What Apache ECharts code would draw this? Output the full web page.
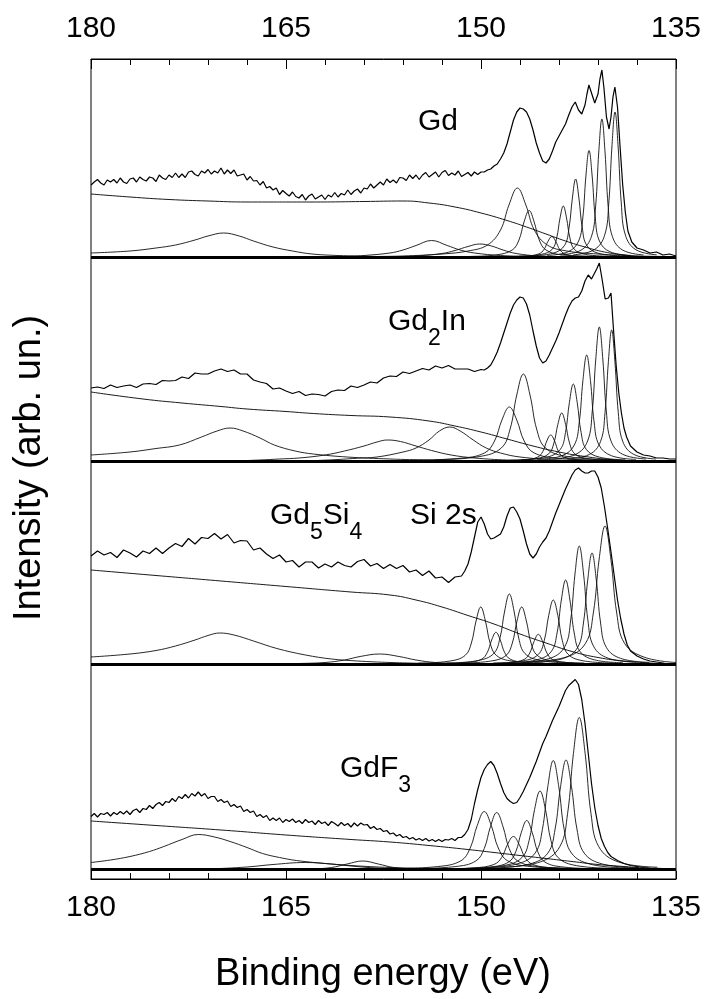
<!DOCTYPE html>
<html>
<head>
<meta charset="utf-8">
<script src="https://cdn.jsdelivr.net/npm/echarts@6.0.0/dist/echarts.min.js"></script>
<style>
  html, body { margin: 0; padding: 0; background: #fff; }
  #chart { width: 707px; height: 999px; }
</style>
</head>
<body>
<div id="chart"></div>
<script>
// binding energy axis (eV), drawn reversed: 180 on the left
const energyMin = 135
const energyMax = 180
const energyStep = 15

// ---- Gd ----
const gdData = [[180,72],[179.75,75],[179.5,77.5],[179.25,74],[179,72],[178.75,77],[178.5,75],[178.25,77.5],[178,74],[177.75,79],[177.5,75],[177.25,73.5],[177,78],[176.75,79],[176.5,75],[176.25,80],[176,77.5],[175.75,76],[175.5,80],[175.25,79],[175,75.5],[174.75,82],[174.5,79],[174.25,77.5],[174,82],[173.75,79.5],[173.5,84],[173.25,79.5],[173,83],[172.75,79.5],[172.5,85],[172.25,86],[172,82.5],[171.75,81],[171.5,86],[171.25,84],[171,87.5],[170.75,83],[170.5,86],[170.25,84],[170,89],[169.75,83],[169.5,87],[169.25,83.5],[169,87],[168.75,81],[168.5,82],[168.25,83],[168,77],[167.75,80.5],[167.5,76],[167.25,76.5],[167,72],[166.75,75.5],[166.5,69],[166.25,70.5],[166,67],[165.75,69],[165.5,62.5],[165.25,66.5],[165,63.5],[164.75,61],[164.5,65],[164.25,60.5],[164,59],[163.75,62.5],[163.5,57],[163.25,61],[163,63],[162.75,58],[162.5,60],[162.25,62],[162,57.5],[161.75,62],[161.5,60],[161.25,64.5],[161,60],[160.75,63.5],[160.5,62],[160.25,67],[160,62.5],[159.75,66],[159.5,68],[159.25,64],[159,69],[158.75,68],[158.5,73],[158.25,69],[158,72],[157.75,75],[157.5,72],[157.25,78],[157,74.5],[156.75,77],[156.5,74],[156.25,79.5],[156,79],[155.75,76.5],[155.5,82],[155.25,78.5],[155,82],[154.75,77.5],[154.5,82],[154.25,84.5],[154,80],[153.75,82.5],[153.5,85],[153.25,80],[153,84.5],[152.75,86.5],[152.5,81.5],[152.25,84],[152,82],[151.75,86],[151.5,80.5],[151.25,82.5],[151,84.5],[150.75,81],[150.5,85],[150.25,82.5],[150,85],[149.75,85],[149.5,87],[149.25,88],[149,91],[148.75,93],[148.5,98],[148.25,104],[148,113],[147.75,125],[147.5,137],[147.25,145],[147,149],[146.75,148],[146.5,145],[146.25,138],[146,127],[145.75,114],[145.5,104],[145.25,96],[145,94],[144.75,98],[144.5,106],[144.25,115],[144,121],[143.75,127],[143.5,133],[143.25,142],[143,150],[142.75,155],[142.5,147],[142.25,143],[142,152],[141.85,163],[141.7,172],[141.5,164],[141.25,154],[141,163],[140.85,178],[140.7,187],[140.55,170],[140.35,140],[140.15,128],[140,140],[139.85,160],[139.7,170],[139.5,150],[139.3,110],[139.1,72],[138.9,45],[138.7,26],[138.4,15],[138,9],[137.5,7],[137,4],[136.5,5],[136,2],[135.5,3],[135,1]]
const gdBackground = [[180,63],[177,60],[174,57.5],[171,56],[168,55],[163,55],[159,55.5],[156,56],[154,54],[152,50],[150,44],[148,36.5],[146.5,30],[145,23],[143.5,16],[142,10],[140.5,5],[139,2],[137.5,0.5],[135,0]]
const gdPeaks = [
  [[180,4],[177,6],[175,9],[173.5,12],[172,17],[171,21],[169.8,24],[168.6,21],[167.5,16],[166,10],[164.5,6],[163,3],[161,1.5],[158,0.5],[155,0]],
  [[162,0],[160,0.8],[159,1.5],[157,4],[156,7],[155,11.5],[153.8,16.5],[152.6,11.5],[151.6,7],[150.5,4],[148.5,1.5],[146,0.5],[144,0]],
  [[158,0],[156,0.5],[155,1],[153,3.5],[152,6.5],[151,10.5],[150.1,13],[149.2,11],[148.3,7],[147.3,3.5],[145.5,1],[143,0.3],[141,0]],
  [[160,0],[158,0.5],[156,1],[153,3],[151,6],[149.5,12],[148.5,27],[147.85,52],[147.2,69],[146.55,52],[145.9,27],[144.9,12],[143.4,6],[141,3],[138,1],[135,0.5]],
  [[153,0],[151,0.5],[148.9,2],[147.6,7],[147.08,17],[146.69,35],[146.3,46.5],[145.91,35],[145.52,17],[145,7],[143.7,2],[141,0.5],[139,0]],
  [[148.55,0.3],[146.55,1],[145.55,3.1],[145.15,7.6],[144.85,15.6],[144.55,20.5],[144.25,15.6],[143.95,7.6],[143.55,3.1],[142.55,1],[140.55,0.3]],
  [[147.07,0.8],[145.37,2.6],[144.52,7.7],[144.18,19],[143.92,39],[143.67,51],[143.42,39],[143.16,19],[142.82,7.7],[141.97,2.6],[140.27,0.8]],
  [[146.12,1.2],[144.42,3.9],[143.57,11.7],[143.23,29],[142.97,59],[142.72,78],[142.47,59],[142.21,29],[141.87,11.7],[141.02,3.9],[139.32,1.2]],
  [[144.89,1.6],[143.29,5.3],[142.49,16],[142.17,39],[141.93,81],[141.69,106.5],[141.45,81],[141.21,39],[140.89,16],[140.09,5.3],[138.49,1.6]],
  [[143.9,2.1],[142.3,6.9],[141.5,20.7],[141.18,51],[140.94,105],[140.7,138],[140.46,105],[140.22,51],[139.9,20.7],[139.1,6.9],[137.5,2.1]],
  [[142.89,2.2],[141.29,7.3],[140.49,21.8],[140.17,54],[139.93,110],[139.69,145],[139.45,110],[139.21,54],[138.89,21.8],[138.09,7.3],[136.49,2.2]]
]

// ---- Gd2In ----
const gd2inData = [[180,73],[179.5,74],[179,72.5],[178.5,76],[178,73.5],[177.5,75],[177,76],[176.5,73.5],[176,77],[175.5,77.5],[175,76.5],[174.5,80.5],[174,80],[173.5,80.5],[173,84],[172.5,82.5],[172,88],[171.5,87],[171,87],[170.5,90],[170,92],[169.5,89.5],[169,91],[168.5,87],[168,87],[167.5,81],[167,79],[166.5,77.5],[166,72],[165.5,73],[165,70],[164.5,67.5],[164,69.5],[163.5,65.5],[163,67],[162.5,66.5],[162,65],[161.5,69.5],[161,71],[160.5,70.5],[160,75],[159.5,73.5],[159,76],[158.5,79],[158,78],[157.5,83],[157,85],[156.5,84.5],[156,89],[155.5,87.5],[155,90],[154.5,92.5],[154,91],[153.5,95],[153,93],[152.5,95.5],[152,92],[151.5,92],[151,92],[150.5,89.5],[150,91.5],[149.75,91],[149.5,93],[149.25,96],[149,102],[148.75,109],[148.5,118],[148.25,128],[148,138],[147.75,148],[147.5,156],[147.25,161],[147,164],[146.75,163],[146.5,157],[146.25,146],[146,130],[145.75,115],[145.5,103],[145.25,98],[145,100],[144.75,106],[144.5,113],[144.25,120],[144,128],[143.75,137],[143.5,146],[143.25,154],[143,160],[142.75,163],[142.5,164],[142.25,170],[142,180],[141.75,186],[141.5,182],[141.35,181],[141.1,192],[140.9,198],[140.7,183],[140.45,162],[140.2,163],[140,168],[139.8,130],[139.6,95],[139.4,68],[139.2,48],[139,33],[138.8,24],[138.5,15],[138,9],[137.5,6],[137,5],[136.5,3],[136,3],[135.5,2],[135,2]]
const gd2inBackground = [[180,69],[176,62],[173,58],[170,54.5],[168,52],[165,49.5],[162.9,47.5],[160,45.5],[157,44],[154,40],[152,35],[150,29],[148,22],[146,15],[144,9],[142,4.5],[140,1.5],[138,0.3],[135,0]]
const gd2inPeaks = [
  [[180,6],[177,9],[175,12.5],[173.2,16],[171.5,24],[170.3,30],[169.3,33],[168.3,30],[167,23],[165.9,16],[164.3,10],[162.9,7],[160.3,4],[157,2],[154,1],[150,0.3]],
  [[169,0],[167,1],[165.5,2],[164,3],[162,6],[160.5,10],[159,15],[158,19],[157.2,21],[156.2,19.5],[155,15],[153.8,10.5],[152.3,6],[150.5,3],[148,1],[145,0.3]],
  [[163,0.3],[161,1.5],[159.5,2.8],[158,4],[156,9],[155,13],[154,21],[153.2,30],[152.4,34],[151.6,30],[150.6,21],[149.6,13],[148.5,8],[147,4],[144,1],[141,0.3]],
  [[155.42,0.8],[151.62,2.7],[149.72,8.1],[148.96,20],[148.39,41],[147.82,54],[147.25,41],[146.68,20],[145.92,8.1],[144.02,2.7],[140.22,0.8]],
  [[153.54,1.3],[150.14,4.4],[148.44,13],[147.76,32],[147.25,66],[146.74,87],[146.23,66],[145.72,32],[145.04,13],[143.34,4.4],[139.94,1.3]],
  [[148.64,0.4],[146.64,1.3],[145.64,3.9],[145.24,9.6],[144.94,20],[144.64,26],[144.34,20],[144.04,9.6],[143.64,3.9],[142.64,1.3],[140.64,0.4]],
  [[147.79,0.7],[145.79,2.4],[144.79,7.2],[144.39,18],[144.09,36.5],[143.79,48],[143.49,36.5],[143.19,18],[142.79,7.2],[141.79,2.4],[139.79,0.7]],
  [[146.9,1.2],[144.9,3.9],[143.9,11.6],[143.5,28.5],[143.2,58.5],[142.9,77],[142.6,58.5],[142.3,28.5],[141.9,11.6],[140.9,3.9],[138.9,1.2]],
  [[145.67,1.6],[143.77,5.3],[142.82,16],[142.44,39],[142.16,80.5],[141.87,106],[141.58,80.5],[141.3,39],[140.92,16],[139.97,5.3],[138.07,1.6]],
  [[144.5,2],[142.7,6.7],[141.8,20],[141.44,50],[141.17,102],[140.9,134],[140.63,102],[140.36,50],[140,20],[139.1,6.7],[137.3,2]],
  [[143.35,2],[141.65,6.6],[140.8,19.7],[140.46,48.5],[140.2,99.5],[139.95,131],[139.7,99.5],[139.44,48.5],[139.1,19.7],[138.25,6.6],[136.55,2]]
]

// ---- Gd5Si4 (with Si 2s) ----
const gd5si4Data = [[180,108],[179.5,113],[179,109],[178.5,111.5],[178,106.5],[177.5,114],[177,111],[176.5,107],[176,113],[175.5,110.5],[175,116],[174.5,110.5],[174,116],[173.5,120.5],[173,117.5],[172.5,125.5],[172,120],[171.5,126.5],[171,125.5],[170.5,130.5],[170,125],[169.5,129.5],[169,121],[168.5,123.5],[168,123],[167.5,114],[167,116],[166.5,110],[166,105.5],[165.5,109],[165,102],[164.5,103.5],[164,97],[163.5,102],[163,102],[162.5,96],[162,100],[161.5,97],[161,102],[160.5,98.5],[160,97],[159.5,102.5],[159,104.5],[158.5,98],[158,100.5],[157.5,95.5],[157,99.5],[156.5,95.5],[156,98.5],[155.5,92],[155,94],[154.5,88.5],[154,93],[153.5,86],[153,87],[152.5,81.5],[152,87],[151.5,88],[151.25,93],[151,100],[150.75,112],[150.5,127],[150.25,142],[150,147],[149.75,140],[149.5,130],[149.25,125],[149,126],[148.75,128],[148.5,130],[148.25,137],[148,148],[147.75,156],[147.5,157],[147.25,152],[147,145],[146.75,133],[146.5,120],[146.25,110],[146,106],[145.75,110],[145.5,117],[145.25,122],[145,126],[144.75,133],[144.5,142],[144.25,151],[144,159],[143.75,167],[143.5,175],[143.25,182],[143,189],[142.75,194],[142.5,196],[142.25,193],[142,191],[141.75,191],[141.5,193],[141.25,193],[141,187],[140.75,176],[140.5,157],[140.25,135],[140,112],[139.75,88],[139.5,64],[139.25,45],[139,30],[138.75,19],[138.5,13],[138,8],[137.5,5],[137,3],[136.5,2],[136,1],[135.6,0]]
const gd5si4Background = [[180,94],[175,88.5],[170,83],[165,77.5],[160,72],[157,69],[155,64],[153,57],[151,48.5],[149,40],[147,30],[145,21],[143,12.5],[141,6.5],[139,3],[137,1],[135.5,0]]
const gd5si4Peaks = [
  [[180,7],[177,10],[175,13.5],[173.5,18],[172,24],[171,28.5],[170.1,31],[169,29],[167.5,23],[165.7,15.5],[163.5,9],[161.5,5],[159.5,3],[157,1.5],[154,0.5]],
  [[166,0],[164,0.5],[162,1.5],[160.5,4],[159.3,7.5],[157.8,10],[156.3,7.5],[155,4],[153.5,1.5],[151,0.3]],
  [[154.82,0.9],[152.42,2.9],[151.22,8.6],[150.74,21],[150.38,43],[150.02,57],[149.66,43],[149.3,21],[148.82,8.6],[147.62,2.9],[145.22,0.9]],
  [[153.25,0.5],[151.05,1.6],[149.95,4.8],[149.51,11.7],[149.18,24],[148.85,31.7],[148.52,24],[148.19,11.7],[147.75,4.8],[146.65,1.6],[144.45,0.5]],
  [[152.62,1],[150.22,3.5],[149.02,10.5],[148.54,26],[148.18,53],[147.82,70],[147.46,53],[147.1,26],[146.62,10.5],[145.42,3.5],[143.02,1]],
  [[151.67,0.9],[149.27,2.9],[148.07,8.6],[147.59,21],[147.23,43],[146.87,57],[146.51,43],[146.15,21],[145.67,8.6],[144.47,2.9],[142.07,0.9]],
  [[149.99,0.4],[147.79,1.5],[146.69,4.5],[146.25,11],[145.92,22.5],[145.59,29.7],[145.26,22.5],[144.93,11],[144.49,4.5],[143.39,1.5],[141.19,0.4]],
  [[149.04,1],[146.74,3.2],[145.59,9.6],[145.13,23.7],[144.79,48.6],[144.44,64],[144.09,48.6],[143.75,23.7],[143.29,9.6],[142.14,3.2],[139.84,1]],
  [[147.89,1.3],[145.69,4.2],[144.59,12.6],[144.15,31],[143.82,64],[143.49,84],[143.16,64],[142.83,31],[142.39,12.6],[141.29,4.2],[139.09,1.3]],
  [[146.84,1.8],[144.64,5.9],[143.54,17.7],[143.1,44],[142.77,90],[142.44,118],[142.11,90],[141.78,44],[141.34,17.7],[140.24,5.9],[138.04,1.8]],
  [[145.86,1.7],[143.66,5.6],[142.56,16.7],[142.12,41],[141.79,84],[141.46,111],[141.13,84],[140.8,41],[140.36,16.7],[139.26,5.6],[137.06,1.7]],
  [[146.46,2.1],[143.46,6.9],[141.96,20.7],[141.36,51],[140.91,105],[140.46,138],[140.01,105],[139.56,51],[138.96,20.7],[137.46,6.9],[135,1.5]]
]

// ---- GdF3 ----
const gdf3Data = [[180,53],[179.75,56],[179.5,52.5],[179.25,56],[179,55],[178.75,57],[178.5,53.5],[178.25,57],[178,55],[177.75,58],[177.5,55.5],[177.25,58.5],[177,55],[176.75,59],[176.5,60.5],[176.25,57],[176,61],[175.75,60],[175.5,64],[175.25,61],[175,65],[174.75,67],[174.5,64],[174.25,68],[174,67],[173.75,71],[173.5,68],[173.25,73],[173,71],[172.75,75],[172.5,71.5],[172.25,76],[172,73.5],[171.75,77.5],[171.5,73.5],[171.25,76],[171,71],[170.75,73],[170.5,73],[170.25,68],[170,70],[169.75,67],[169.5,68.5],[169.25,63],[169,65],[168.75,62],[168.5,63.5],[168.25,58],[168,60],[167.75,57],[167.5,58.5],[167.25,53],[167,55],[166.75,52],[166.5,54],[166.25,49],[166,51.5],[165.75,49],[165.5,51.5],[165.25,47],[165,50],[164.75,48],[164.5,50.5],[164.25,47],[164,49],[163.75,46],[163.5,50],[163.25,47],[163,48.5],[162.75,45],[162.5,49],[162.25,46],[162,47.5],[161.75,44],[161.5,48],[161.25,46],[161,43.5],[160.75,47],[160.5,44],[160.25,46],[160,42.5],[159.75,46.5],[159.5,43.5],[159.25,46.5],[159,44.5],[158.75,45],[158.5,41],[158.25,43],[158,40],[157.75,41],[157.5,38],[157.25,39],[157,35.5],[156.75,36.5],[156.5,33.5],[156.25,35],[156,32],[155.75,33],[155.5,30.5],[155.25,32],[155,29.5],[154.75,31],[154.5,29],[154.25,31],[154,28.5],[153.75,30],[153.5,28],[153.25,30],[153,28],[152.75,30],[152.5,29.5],[152.25,31],[152,29],[151.75,32],[151.5,32],[151.25,35],[151,40],[150.75,50],[150.5,66],[150.25,80],[150,92],[149.75,100],[149.5,105],[149.25,108],[149,104],[148.75,96],[148.5,86],[148.25,77],[148,71],[147.75,68],[147.5,66],[147.25,67],[147,72],[146.75,78],[146.5,85],[146.25,92],[146,100],[145.75,108],[145.5,117],[145.25,126],[145,133],[144.75,141],[144.5,149],[144.25,156],[144,163],[143.75,171],[143.5,179],[143.25,184],[143,187],[142.75,190],[142.5,185],[142.25,170],[142,146],[141.75,116],[141.5,86],[141.25,62],[141,44],[140.75,31],[140.5,23],[140.25,17],[140,13],[139.5,9],[139,6],[138.5,4],[138,3],[137.5,2],[137,1.5],[136,1],[135,0.5]]
const gdf3Background = [[180,48.5],[175,44],[170,39.5],[165,34.5],[160,30],[157,27.5],[154,24],[151,20],[149,17],[147,14],[145,11],[143,8],[141,5],[139,3],[137,1],[135,0]]
const gdf3Peaks = [
  [[180,7],[178.5,9.5],[177,13],[175.5,18],[174.4,23],[173,30],[171.75,35],[170.5,32.5],[169.3,28],[168,22],[166.8,16],[165.5,12],[164.2,9],[162,6],[160,4],[157,2],[153,0.5]],
  [[173,0],[171,0.5],[168,2.5],[166,5],[163.5,7],[161.5,5.5],[160,3.5],[158,1.5],[155,0.5]],
  [[165,0],[163,0.5],[161.5,2],[160.3,5.5],[159.1,8.5],[157.9,5.5],[156.7,2],[155,0.5],[153,0]],
  [[156.95,0.9],[153.35,2.9],[151.55,8.7],[150.83,21.5],[150.29,44],[149.75,58],[149.21,44],[148.67,21.5],[147.95,8.7],[146.15,2.9],[142.55,0.9]],
  [[155.19,0.9],[151.99,2.9],[150.39,8.6],[149.75,21],[149.27,43],[148.79,57],[148.31,43],[147.83,21],[147.19,8.6],[145.59,2.9],[142.39,0.9]],
  [[153.51,0.5],[150.51,1.7],[149.01,5],[148.41,12],[147.96,25],[147.51,33],[147.06,25],[146.61,12],[146.01,5],[144.51,1.7],[141.51,0.5]],
  [[152.08,0.7],[149.28,2.5],[147.88,7.4],[147.32,18],[146.9,37],[146.48,49],[146.06,37],[145.64,18],[145.08,7.4],[143.68,2.5],[140.88,0.7]],
  [[151.06,1.2],[148.26,3.9],[146.86,11.8],[146.3,29],[145.88,60],[145.46,78.5],[145.04,60],[144.62,29],[144.06,11.8],[142.66,3.9],[139.86,1.2]],
  [[150.04,1.6],[147.24,5.5],[145.84,16.4],[145.28,40],[144.86,83],[144.44,109],[144.02,83],[143.6,40],[143.04,16.4],[141.64,5.5],[138.84,1.6]],
  [[149.06,1.6],[146.26,5.5],[144.86,16.4],[144.3,40.5],[143.88,83],[143.46,109.5],[143.04,83],[142.62,40.5],[142.06,16.4],[140.66,5.5],[137.86,1.6]],
  [[148.44,2.3],[145.44,7.6],[143.94,22.8],[143.34,56],[142.89,116],[142.44,152],[141.99,116],[141.54,56],[140.94,22.8],[139.44,7.6],[136.44,2.3]]
]

const panels = [
  { data: gdData, background: gdBackground, peaks: gdPeaks },
  { data: gd2inData, background: gd2inBackground, peaks: gd2inPeaks },
  { data: gd5si4Data, background: gd5si4Background, peaks: gd5si4Peaks },
  { data: gdf3Data, background: gdf3Background, peaks: gdf3Peaks }
]

// pixel layout of the stacked panels
const layout = [
  { top: 59, height: 198, yMin: 0, yMax: 198 },
  { top: 257, height: 204, yMin: 0, yMax: 204 },
  { top: 461, height: 203, yMin: 0, yMax: 203 },
  { top: 664, height: 215, yMin: -9.5, yMax: 205.5 }
]

const FONT = '"Liberation Sans", Arial, Helvetica, sans-serif'
const measureCtx = document.createElement('canvas').getContext('2d')
const textWidth = (text, size) => {
  measureCtx.font = size + 'px ' + FONT
  return measureCtx.measureText(text).width
}

// text with subscripts, pieces laid out left to right
const formulaLabel = (x, y, parts) => {
  const items = []
  let cursor = x
  parts.forEach(part => {
    const sub = typeof part !== 'string'
    const text = sub ? part.sub : part
    const size = sub ? 23 : 30
    items.push({
      type: 'text',
      x: cursor,
      y: sub ? y + 17 : y,
      silent: true,
      style: { text, font: size + 'px ' + FONT, fill: '#000', align: 'left', verticalAlign: 'middle' }
    })
    cursor += textWidth(text, size)
  })
  return items
}

const chart = echarts.init(document.getElementById('chart'))

const series = []
panels.forEach((panel, i) => {
  panel.peaks.forEach(peak => {
    series.push({
      type: 'line', xAxisIndex: i, yAxisIndex: i, data: peak,
      symbol: 'none', smooth: 0.4, silent: true, z: 2,
      lineStyle: { color: '#111', width: 0.9 }
    })
  })
  series.push({
    type: 'line', xAxisIndex: i, yAxisIndex: i, data: panel.background,
    symbol: 'none', smooth: true, silent: true, z: 3,
    lineStyle: { color: '#000', width: 0.9 }
  })
  series.push({
    type: 'line', xAxisIndex: i, yAxisIndex: i, data: panel.data,
    symbol: 'none', smooth: false, silent: true, z: 4,
    lineStyle: { color: '#000', width: 1.2 },
    markLine: {
      silent: true, symbol: 'none', animation: false,
      label: { show: false },
      lineStyle: { color: '#000', width: 3, type: 'solid' },
      data: [{ yAxis: 0 }]
    }
  })
})

const option = {
  animation: false,
  backgroundColor: '#fff',
  grid: layout.map(l => ({
    left: 91, right: 31, top: l.top, height: l.height,
    show: true, borderColor: '#000', borderWidth: 1, backgroundColor: 'transparent'
  })),
  xAxis: layout.map((l, i) => ({
    type: 'value', gridIndex: i,
    min: energyMin, max: energyMax, interval: energyStep, inverse: true,
    show: i === 0 || i === 3,
    position: i === 0 ? 'top' : 'bottom',
    axisLine: { onZero: false, lineStyle: { color: '#000', width: 1 } },
    axisTick: { inside: true, length: i === 0 ? 10 : 8, lineStyle: { color: '#000' } },
    minorTick: { show: true, splitNumber: 5, length: 6, lineStyle: { color: '#000' } },
    splitLine: { show: false },
    axisLabel: { color: '#000', fontSize: 30, fontFamily: FONT, margin: i === 0 ? 15 : 14 }
  })),
  yAxis: layout.map((l, i) => ({
    type: 'value', gridIndex: i, min: l.yMin, max: l.yMax, show: false,
    splitLine: { show: false }
  })),
  series,
  graphic: {
    elements: [
      ...formulaLabel(418, 122, ['Gd']),
      ...formulaLabel(388, 322, ['Gd', { sub: '2' }, 'In']),
      ...formulaLabel(270, 516, ['Gd', { sub: '5' }, 'Si', { sub: '4' }]),
      ...formulaLabel(410, 516, ['Si 2s']),
      ...formulaLabel(340, 769, ['GdF', { sub: '3' }]),
      {
        type: 'text', x: 383, y: 975, silent: true,
        style: { text: 'Binding energy (eV)', font: '38px ' + FONT, fill: '#000', align: 'center', verticalAlign: 'middle' }
      },
      {
        type: 'text', x: 30, y: 468, rotation: Math.PI / 2, silent: true,
        style: { text: 'Intensity (arb. un.)', font: '38px ' + FONT, fill: '#000', align: 'center', verticalAlign: 'middle' }
      }
    ]
  }
}

chart.setOption(option)
</script>
</body>
</html>
